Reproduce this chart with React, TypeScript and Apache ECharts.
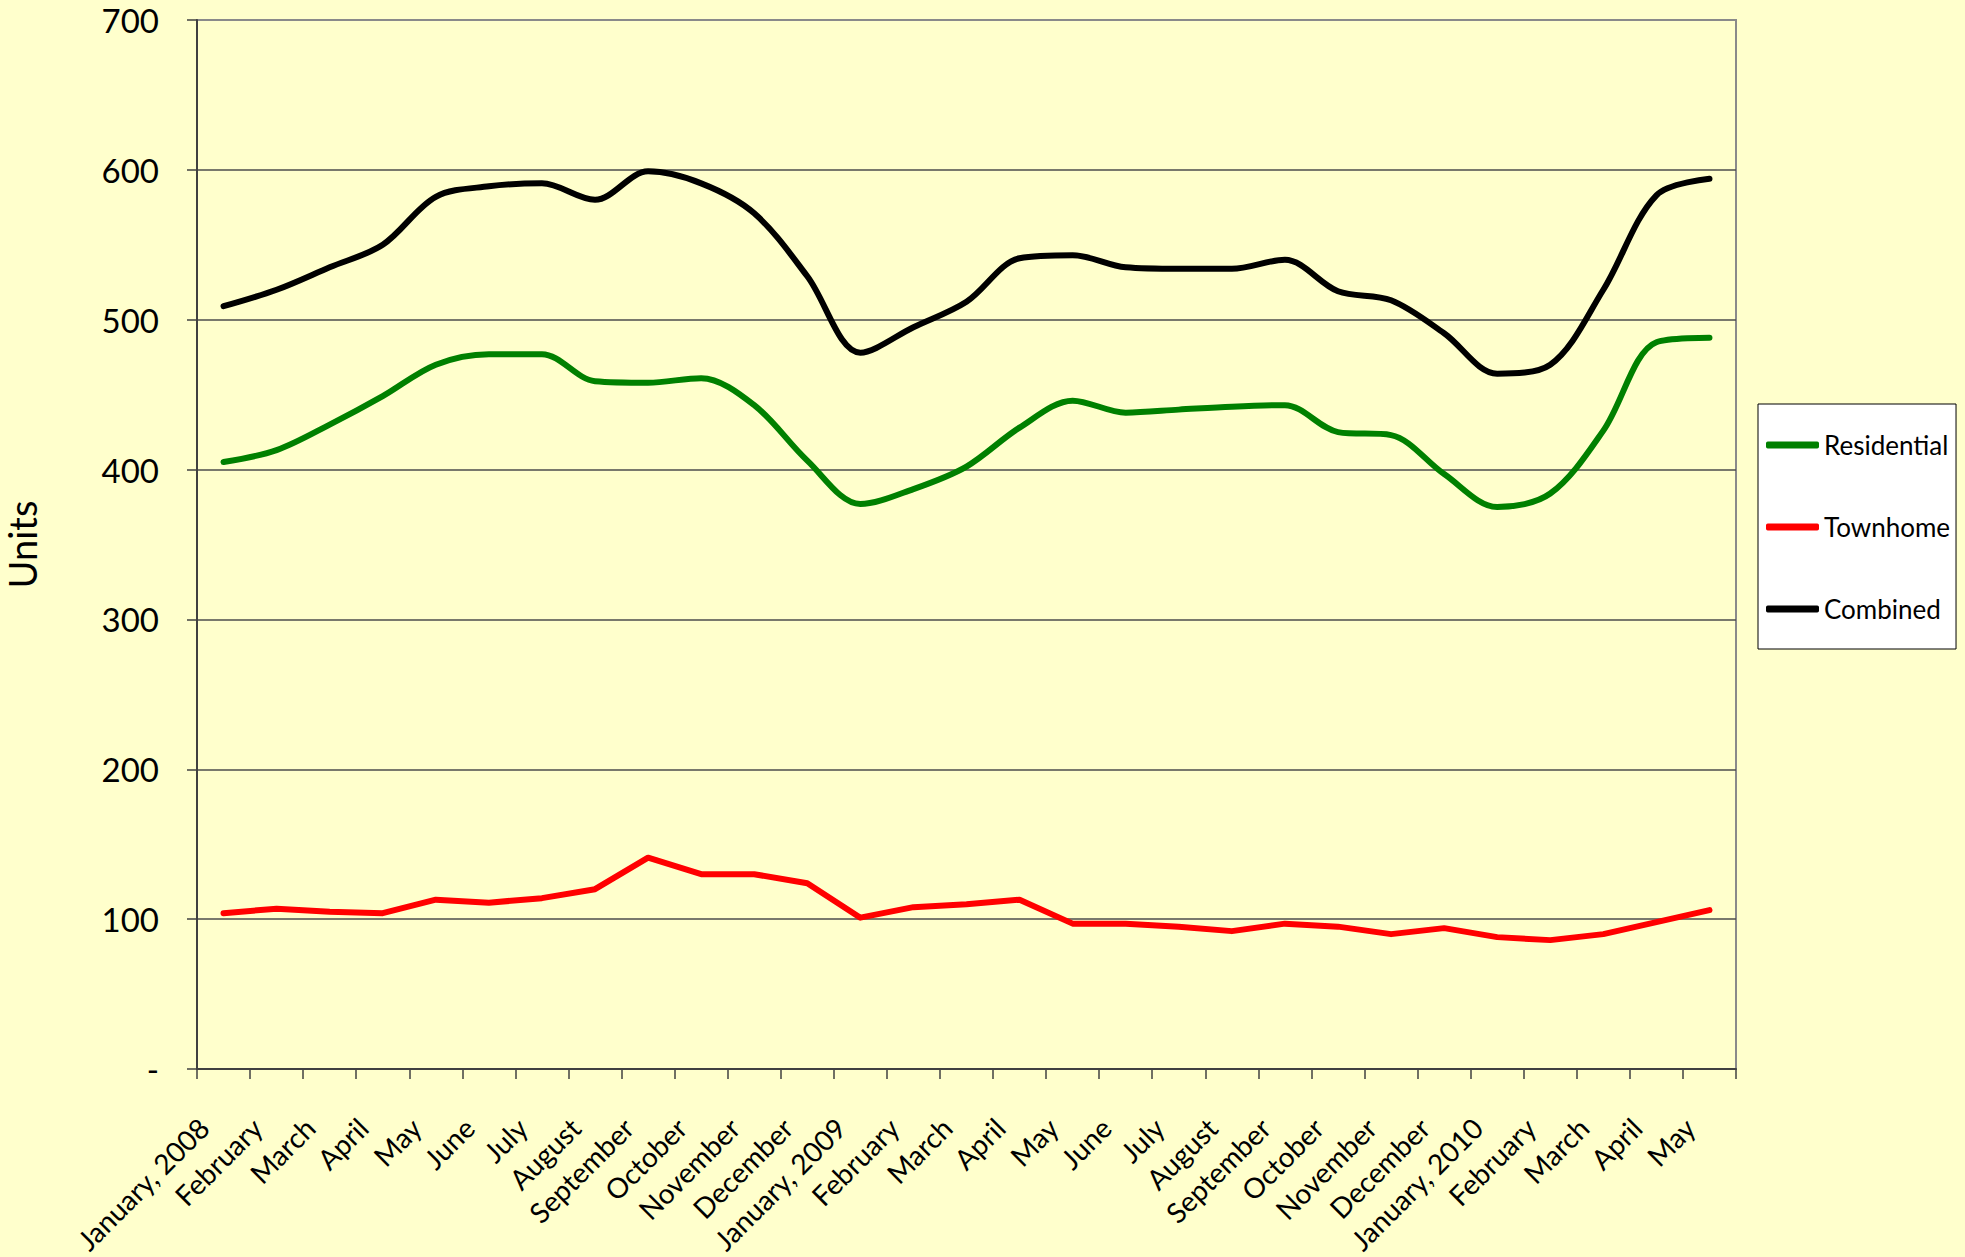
import React, { useEffect, useRef } from "react";
import * as echarts from "echarts";

const categories = [
  "January, 2008", "February", "March", "April", "May", "June", "July", "August",
  "September", "October", "November", "December",
  "January, 2009", "February", "March", "April", "May", "June", "July", "August",
  "September", "October", "November", "December",
  "January, 2010", "February", "March", "April", "May",
];

const residential = [405, 413, 430, 449, 470, 477, 477, 459, 458, 461, 443, 406, 377, 387, 402, 428, 446, 438, 440, 442, 443, 425, 423, 397, 375, 384, 426, 485, 488];
const townhome = [104, 107, 105, 104, 113, 111, 114, 120, 141, 130, 130, 124, 101, 108, 110, 113, 97, 97, 95, 92, 97, 95, 90, 94, 88, 86, 90, 98, 106];
const combined = [509, 520, 535, 550, 582, 589, 591, 580, 599, 591, 571, 529, 478, 495, 512, 541, 543, 535, 534, 534, 540, 519, 513, 491, 464, 470, 520, 583, 594];

const yTicks = [0, 100, 200, 300, 400, 500, 600, 700];

const FONT = "Lato, 'Noto Sans', sans-serif";

export default function App() {
  const ref = useRef<HTMLDivElement>(null);
  useEffect(() => {
    if (!ref.current) return;
    const chart = echarts.init(ref.current, undefined, { renderer: "svg" });
    const lineCommon = { cap: "round", join: "round" };
    chart.setOption({
      animation: false,
      backgroundColor: "#FFFFCC",
      textStyle: { fontFamily: FONT },
      grid: {
        left: 197,
        right: 229,
        top: 20,
        bottom: 188,
        show: true,
        backgroundColor: "#FFFFCC",
        borderColor: "#8a8a8a",
        borderWidth: 2,
        containLabel: false,
        outerBoundsMode: "none",
      },
      legend: {
        orient: "vertical",
        left: 1758,
        top: 404,
        padding: [28, 6, 27, 8],
        itemGap: 56,
        itemWidth: 53,
        itemHeight: 7,
        itemTextGap: 5,
        icon: "roundRect",
        backgroundColor: "#FFFFFF",
        borderColor: "#000000",
        borderWidth: 1,
        textStyle: { fontSize: 26, color: "#000", fontFamily: FONT },
        data: ["Residential", "Townhome", "Combined"],
      },
      xAxis: {
        type: "category",
        data: categories,
        boundaryGap: true,
        axisLine: { lineStyle: { color: "#404040", width: 2 } },
        axisTick: { show: true, length: 10, interval: 0, lineStyle: { color: "#404040", width: 1.5 } },
        axisLabel: {
          interval: 0,
          rotate: 45,
          margin: 34,
          padding: [0, 28, 0, 0],
          fontSize: 28,
          color: "#000",
          fontFamily: FONT,
        },
        splitLine: { show: false },
      },
      yAxis: {
        type: "value",
        min: yTicks[0],
        max: yTicks[yTicks.length - 1],
        interval: 100,
        name: "Units",
        nameLocation: "middle",
        nameRotate: 90,
        nameGap: 156,
        nameTextStyle: { fontSize: 38, color: "#000", fontFamily: FONT },
        axisLine: { show: true, lineStyle: { color: "#404040", width: 2 } },
        axisTick: { show: true, length: 10, lineStyle: { color: "#404040", width: 1.5 } },
        axisLabel: {
          margin: 38,
          fontSize: 33,
          color: "#000",
          fontFamily: FONT,
          formatter: (v: number) => (v === 0 ? "-" : String(v)),
        },
        splitLine: {
          show: true,
          lineStyle: {
            color: ["#404040", "#4d4d4d", "#4d4d4d", "#4d4d4d", "#4d4d4d", "#4d4d4d", "#4d4d4d", "#8a8a8a"],
            width: 1.5,
          },
        },
      },
      series: [
        {
          name: "Residential",
          type: "line",
          data: residential,
          smooth: 0.33,
          symbol: "none",
          lineStyle: { color: "#008000", width: 6, ...lineCommon },
          itemStyle: { color: "#008000" },
        },
        {
          name: "Townhome",
          type: "line",
          data: townhome,
          smooth: false,
          symbol: "none",
          lineStyle: { color: "#FF0000", width: 6, ...lineCommon },
          itemStyle: { color: "#FF0000" },
        },
        {
          name: "Combined",
          type: "line",
          data: combined,
          smooth: 0.33,
          symbol: "none",
          lineStyle: { color: "#000000", width: 6, ...lineCommon },
          itemStyle: { color: "#000000" },
        },
      ],
    });
    return () => chart.dispose();
  }, []);
  return (
    <div
      ref={ref}
      style={{ position: "fixed", left: 0, top: 0, width: 1965, height: 1257 }}
    />
  );
}
